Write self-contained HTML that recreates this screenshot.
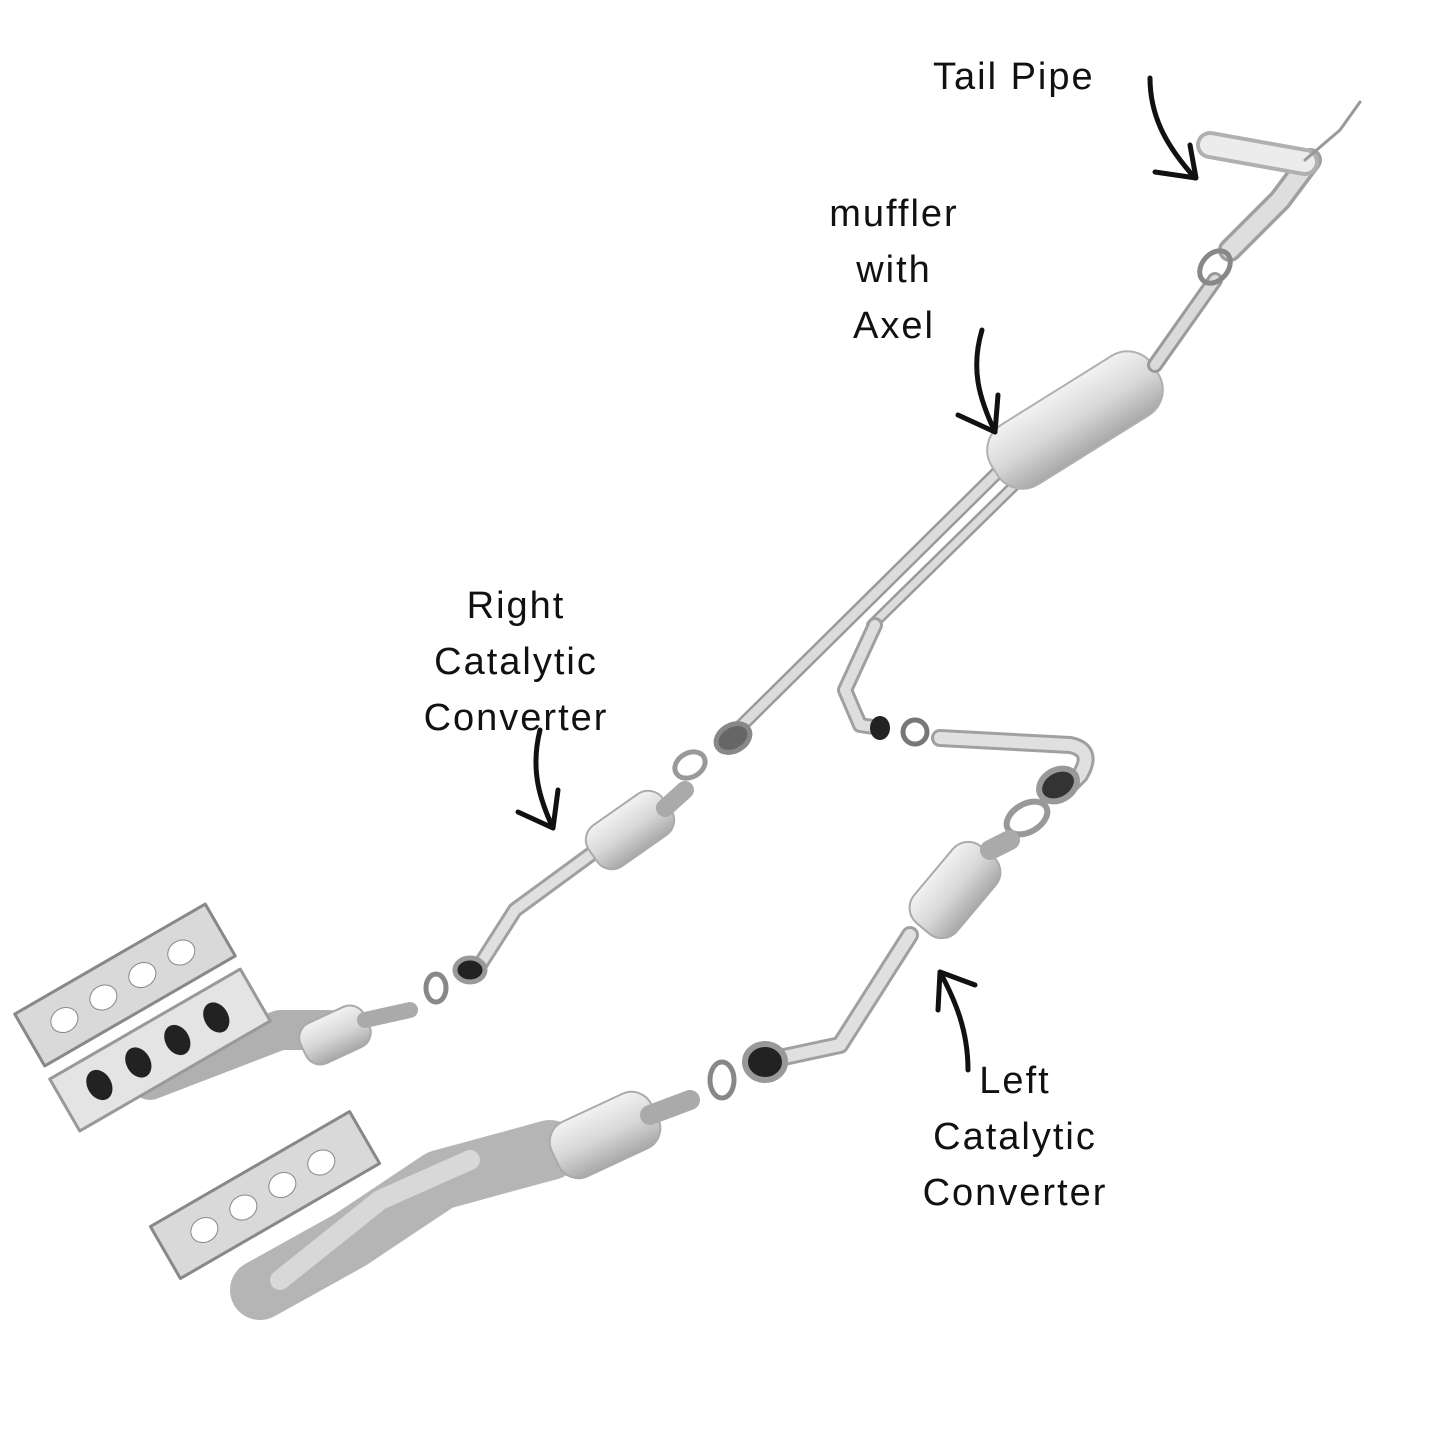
<!DOCTYPE html>
<html><head><meta charset="utf-8"><style>
html,body{margin:0;padding:0;background:#fff;}
svg{display:block}
text{font-family:"Liberation Sans",sans-serif;font-size:38px;letter-spacing:2px;fill:#111;}
</style></head><body>
<svg width="1445" height="1445" viewBox="0 0 1445 1445" xmlns="http://www.w3.org/2000/svg">
<defs>
<linearGradient id="m" x1="0" y1="0" x2="0" y2="1">
<stop offset="0" stop-color="#f2f2f2"/><stop offset="0.5" stop-color="#d8d8d8"/><stop offset="1" stop-color="#a8a8a8"/>
</linearGradient>
</defs>
<g stroke-linecap="round" stroke-linejoin="round" fill="none">
<path d="M732,735 L1000,470" stroke="#9a9a9a" stroke-width="14"/>
<path d="M732,735 L1000,470" stroke="#dcdcdc" stroke-width="9"/>
<path d="M872,625 L1025,475" stroke="#9a9a9a" stroke-width="12"/>
<path d="M872,625 L1025,475" stroke="#dcdcdc" stroke-width="7"/>
<path d="M875,625 L845,690 L860,725 L880,728" stroke="#a0a0a0" stroke-width="16"/>
<path d="M875,625 L845,690 L860,725 L880,728" stroke="#dedede" stroke-width="10"/>
<g transform="translate(1075,420) rotate(-32)">
<rect x="-95" y="-35" width="190" height="70" rx="30" fill="url(#m)" stroke="#b0b0b0" stroke-width="2"/>
</g>
<path d="M1155,365 L1215,280" stroke="#9a9a9a" stroke-width="16"/>
<path d="M1155,365 L1215,280" stroke="#dadada" stroke-width="10"/>
<path d="M1230,250 L1280,200 L1310,160" stroke="#a0a0a0" stroke-width="24"/>
<path d="M1230,250 L1280,200 L1310,160" stroke="#dedede" stroke-width="17"/>
<path d="M1210,145 L1305,162" stroke="#b0b0b0" stroke-width="28"/>
<path d="M1210,145 L1305,162" stroke="#ececec" stroke-width="20"/>
<path d="M1305,160 L1340,130 L1360,102" stroke="#999" stroke-width="3"/>
<ellipse cx="1215" cy="267" rx="13" ry="18" transform="rotate(40 1215 267)" stroke="#888" stroke-width="5"/>
<ellipse cx="733" cy="738" rx="18" ry="13" transform="rotate(-30 733 738)" stroke="#888" stroke-width="5" fill="#666"/>
<ellipse cx="690" cy="765" rx="16" ry="12" transform="rotate(-30 690 765)" stroke="#999" stroke-width="5"/>
<ellipse cx="880" cy="728" rx="10" ry="12" fill="#222"/>
<ellipse cx="915" cy="732" rx="12" ry="12" stroke="#777" stroke-width="5"/>
<path d="M940,738 L1070,745 Q1095,750 1080,775 L1065,790" stroke="#a0a0a0" stroke-width="18"/>
<path d="M940,738 L1070,745 Q1095,750 1080,775 L1065,790" stroke="#e0e0e0" stroke-width="12"/>
<ellipse cx="1058" cy="785" rx="20" ry="15" transform="rotate(-30 1058 785)" stroke="#999" stroke-width="6" fill="#333"/>
<ellipse cx="1027" cy="818" rx="22" ry="14" transform="rotate(-30 1027 818)" stroke="#999" stroke-width="6"/>
<path d="M478,968 L515,910 L590,855" stroke="#a0a0a0" stroke-width="16"/>
<path d="M478,968 L515,910 L590,855" stroke="#e0e0e0" stroke-width="10"/>
<g transform="translate(630,830) rotate(-35)">
<rect x="-45" y="-25" width="90" height="50" rx="18" fill="url(#m)" stroke="#aaa" stroke-width="2"/></g>
<path d="M665,808 L685,790" stroke="#aaa" stroke-width="18"/>
<ellipse cx="470" cy="970" rx="15" ry="12" fill="#222" stroke="#999" stroke-width="5"/>
<ellipse cx="436" cy="988" rx="10" ry="14" stroke="#888" stroke-width="5"/>
<path d="M770,1060 L840,1045 L910,935" stroke="#a0a0a0" stroke-width="18"/>
<path d="M770,1060 L840,1045 L910,935" stroke="#e0e0e0" stroke-width="12"/>
<g transform="translate(955,890) rotate(-50)">
<rect x="-50" y="-28" width="100" height="56" rx="20" fill="url(#m)" stroke="#aaa" stroke-width="2"/></g>
<path d="M990,850 L1010,840" stroke="#aaa" stroke-width="20"/>
<ellipse cx="765" cy="1062" rx="20" ry="18" fill="#222" stroke="#999" stroke-width="6"/>
<ellipse cx="722" cy="1080" rx="12" ry="18" stroke="#888" stroke-width="5"/>
<g transform="translate(125,985) rotate(-30)">
<rect x="-110" y="-30" width="220" height="60" fill="#d9d9d9" stroke="#888" stroke-width="3"/>
<ellipse cx="-70" cy="0" rx="14" ry="12" fill="#fff" stroke="#888"/><ellipse cx="-25" cy="0" rx="14" ry="12" fill="#fff" stroke="#888"/>
<ellipse cx="20" cy="0" rx="14" ry="12" fill="#fff" stroke="#888"/><ellipse cx="65" cy="0" rx="14" ry="12" fill="#fff" stroke="#888"/></g>
<path d="M150,1080 L280,1030 L330,1030" stroke="#b0b0b0" stroke-width="40"/>
<g transform="translate(160,1050) rotate(-30)">
<rect x="-110" y="-30" width="220" height="60" fill="#e4e4e4" stroke="#999" stroke-width="3"/>
<ellipse cx="-70" cy="0" rx="12" ry="16" fill="#222"/><ellipse cx="-25" cy="0" rx="12" ry="16" fill="#222"/>
<ellipse cx="20" cy="0" rx="12" ry="16" fill="#222"/><ellipse cx="65" cy="0" rx="12" ry="16" fill="#222"/></g>
<g transform="translate(335,1035) rotate(-25)">
<rect x="-35" y="-22" width="70" height="44" rx="16" fill="url(#m)" stroke="#aaa" stroke-width="2"/></g>
<path d="M365,1020 L410,1010" stroke="#aaa" stroke-width="16"/>
<g transform="translate(265,1195) rotate(-30)">
<rect x="-115" y="-30" width="230" height="60" fill="#d9d9d9" stroke="#888" stroke-width="3"/>
<ellipse cx="-70" cy="0" rx="14" ry="12" fill="#fff" stroke="#888"/><ellipse cx="-25" cy="0" rx="14" ry="12" fill="#fff" stroke="#888"/>
<ellipse cx="20" cy="0" rx="14" ry="12" fill="#fff" stroke="#888"/><ellipse cx="65" cy="0" rx="14" ry="12" fill="#fff" stroke="#888"/></g>
<path d="M260,1290 L350,1240 L440,1180 L550,1150" stroke="#b5b5b5" stroke-width="60"/>
<path d="M280,1280 L380,1200 L470,1160" stroke="#d8d8d8" stroke-width="20"/>
<g transform="translate(605,1135) rotate(-25)">
<rect x="-55" y="-30" width="110" height="60" rx="22" fill="url(#m)" stroke="#aaa" stroke-width="2"/></g>
<path d="M650,1115 L690,1100" stroke="#aaa" stroke-width="20"/>
<path d="M1150,78 C1150,120 1170,150 1195,178" stroke="#111" stroke-width="5"/>
<path d="M1155,172 L1196,178 L1190,145" stroke="#111" stroke-width="5"/>
<path d="M982,330 C970,370 980,400 995,432" stroke="#111" stroke-width="5"/>
<path d="M958,415 L995,432 L998,395" stroke="#111" stroke-width="5"/>
<path d="M540,730 C530,770 540,800 553,828" stroke="#111" stroke-width="5"/>
<path d="M518,812 L553,828 L558,790" stroke="#111" stroke-width="5"/>
<path d="M968,1070 C968,1030 955,1000 940,972" stroke="#111" stroke-width="5"/>
<path d="M975,985 L940,972 L938,1010" stroke="#111" stroke-width="5"/>
</g>
<text x="933" y="89">Tail Pipe</text>
<text x="894" y="226" text-anchor="middle">muffler</text>
<text x="894" y="282" text-anchor="middle">with</text>
<text x="894" y="338" text-anchor="middle">Axel</text>
<text x="516" y="618" text-anchor="middle">Right</text>
<text x="516" y="674" text-anchor="middle">Catalytic</text>
<text x="516" y="730" text-anchor="middle">Converter</text>
<text x="1015" y="1093" text-anchor="middle">Left</text>
<text x="1015" y="1149" text-anchor="middle">Catalytic</text>
<text x="1015" y="1205" text-anchor="middle">Converter</text>
</svg>
</body></html>
